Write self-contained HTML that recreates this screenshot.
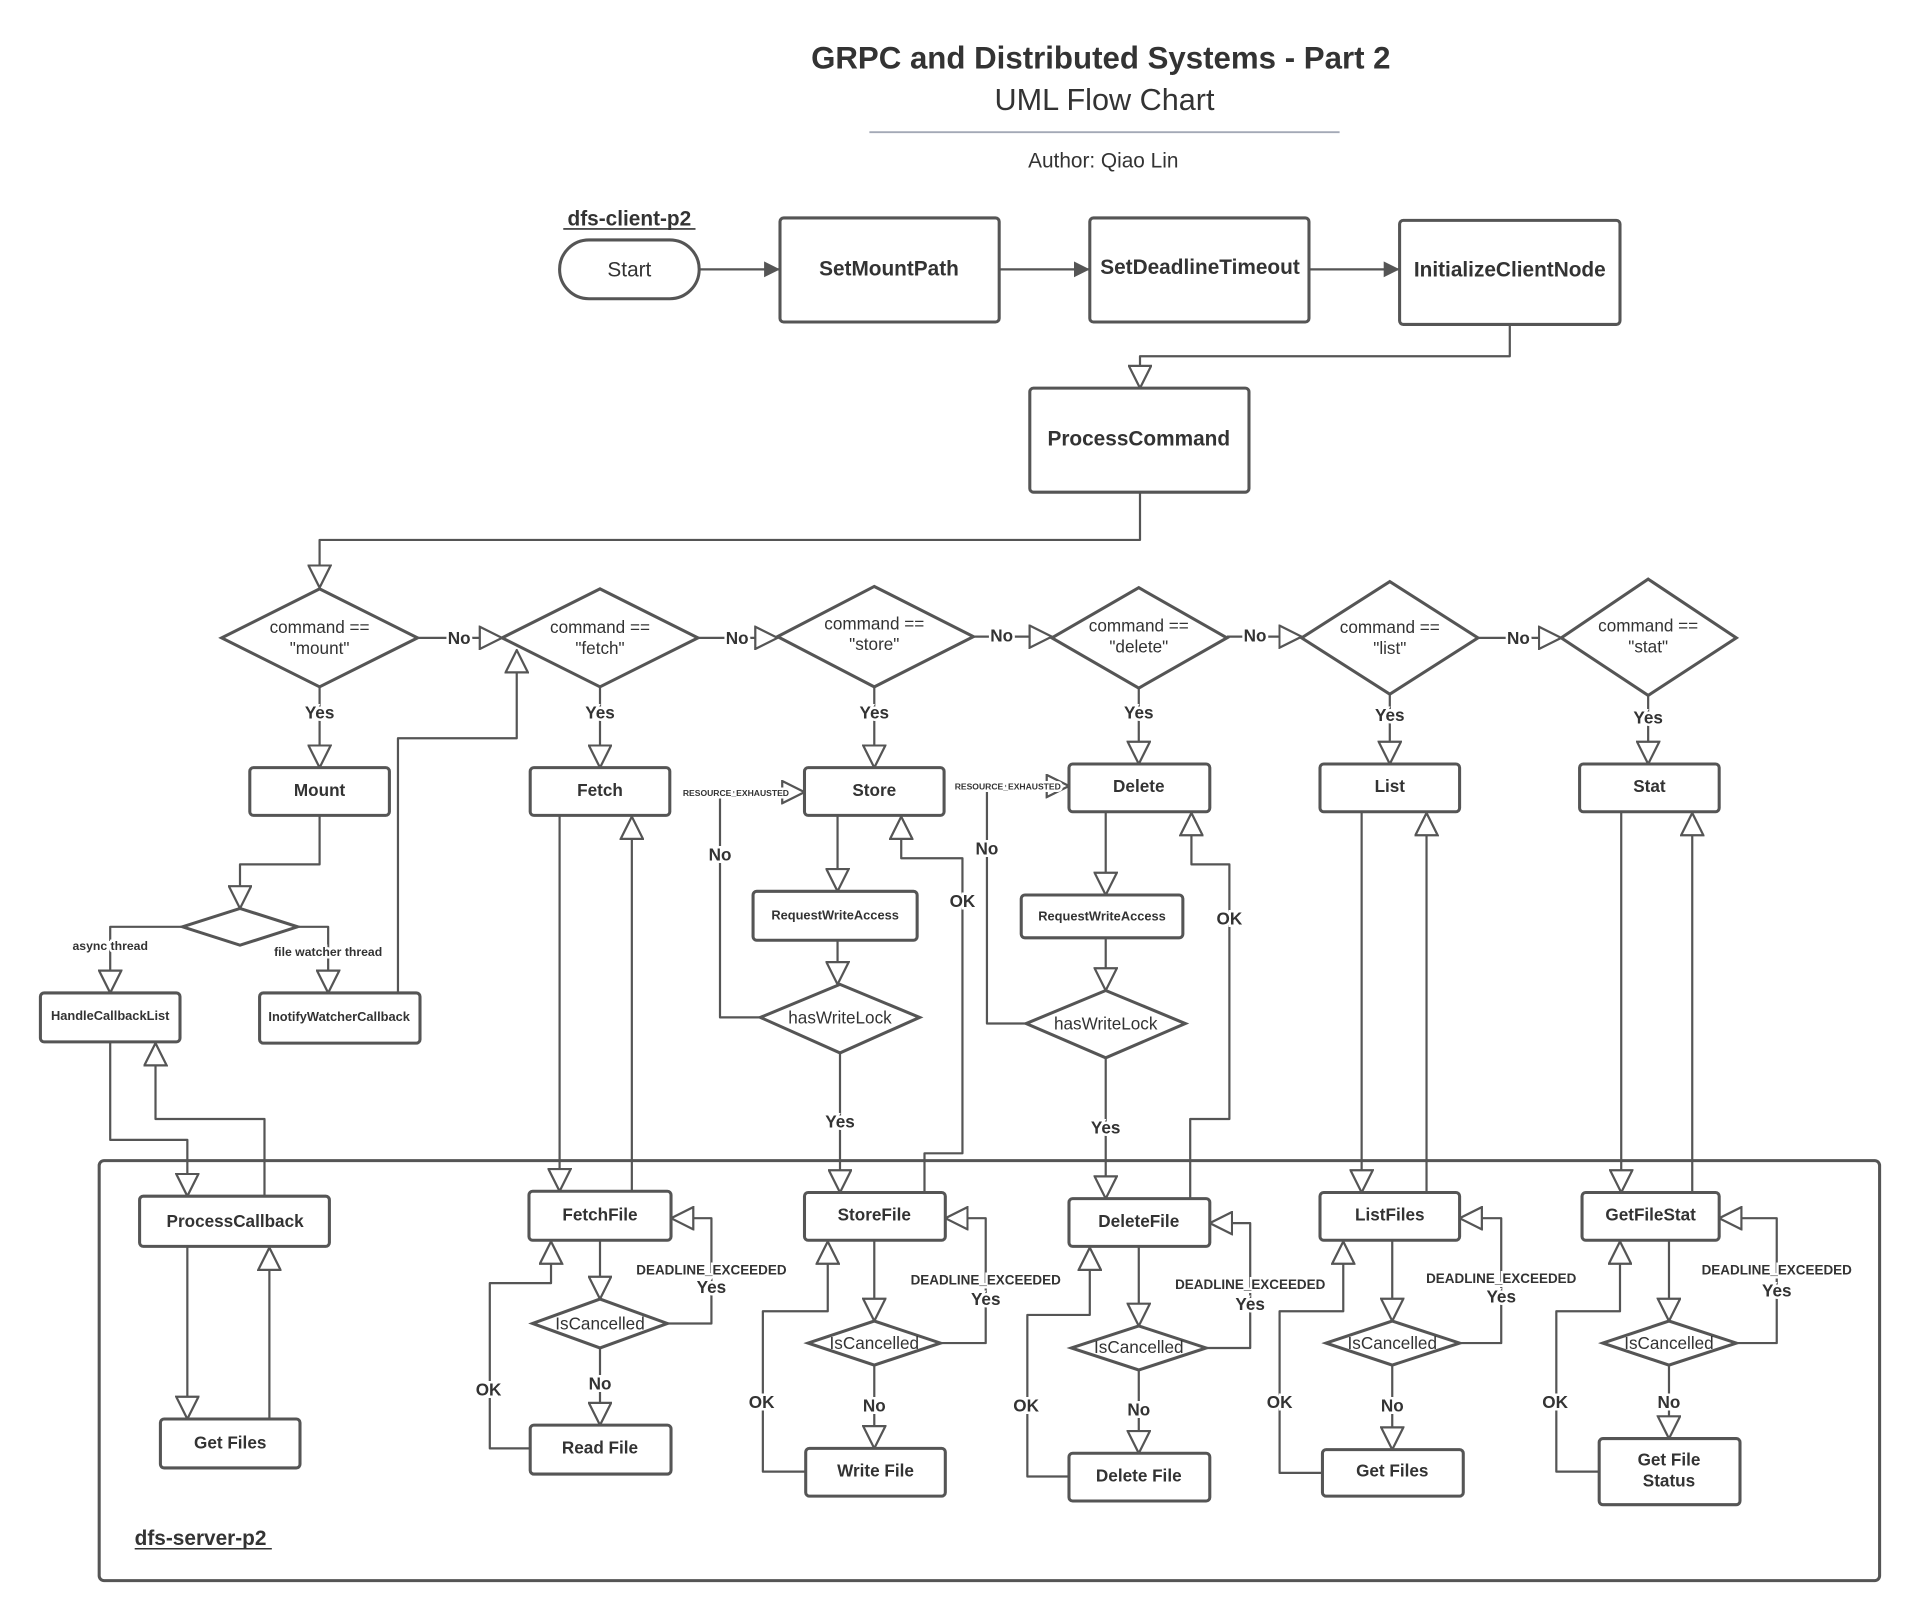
<!DOCTYPE html>
<html><head><meta charset="utf-8"><style>
html,body{margin:0;padding:0;background:#fff}
svg{display:block}
text{font-family:"Liberation Sans",sans-serif;fill:#333}
.b{font-weight:bold}
.box{fill:#fff;stroke:#555;stroke-width:2.5}
.ln{fill:none;stroke:#555;stroke-width:1.8;stroke-linejoin:round}
.lb{font-weight:bold;paint-order:stroke;stroke:#fff;stroke-width:4px}
</style></head><body>
<svg width="1920" height="1621" viewBox="0 0 1568 1324" preserveAspectRatio="none" xmlns="http://www.w3.org/2000/svg">
<defs>
<marker id="h" viewBox="0 0 22 22" markerWidth="20" markerHeight="20" refX="21" refY="11" orient="auto" markerUnits="userSpaceOnUse">
<path d="M1,1 L21,11 L1,21 Z" fill="#fff" stroke="#555" stroke-width="2"/></marker>
<marker id="f" viewBox="0 0 12 12" markerWidth="13" markerHeight="13" refX="12" refY="6" orient="auto" markerUnits="userSpaceOnUse">
<path d="M0,0 L12,6 L0,12 Z" fill="#555"/></marker>
</defs>
<rect width="1568" height="1324" fill="#fff"/>
<text x="899" y="56" text-anchor="middle" class="b" font-size="25.5">GRPC and Distributed Systems - Part 2</text>
<text x="902" y="90" text-anchor="middle" font-size="25">UML Flow Chart</text>
<line x1="710" y1="108" x2="1094" y2="108" stroke="#a3a9b6" stroke-width="1.5"/>
<text x="901" y="137" text-anchor="middle" font-size="17">Author: Qiao Lin</text>
<text x="514" y="184" text-anchor="middle" class="b" font-size="17">dfs-client-p2</text>
<line x1="460" y1="187" x2="568" y2="187" stroke="#333" stroke-width="1.3"/>

<rect x="457" y="196" width="114" height="48" rx="24" class="box"/>
<text x="514" y="226" text-anchor="middle" font-size="17">Start</text>
<rect x="637" y="178" width="179" height="85" rx="3" class="box"/>
<text x="726" y="225" text-anchor="middle" class="b" font-size="17">SetMountPath</text>
<rect x="890" y="178" width="179" height="85" rx="3" class="box"/>
<text x="980" y="224" text-anchor="middle" class="b" font-size="17">SetDeadlineTimeout</text>
<rect x="1143" y="180" width="180" height="85" rx="3" class="box"/>
<text x="1233" y="226" text-anchor="middle" class="b" font-size="17">InitializeClientNode</text>
<rect x="841" y="317" width="179" height="85" rx="3" class="box"/>
<text x="930" y="364" text-anchor="middle" class="b" font-size="17">ProcessCommand</text>

<path class="ln" marker-end="url(#f)" d="M571,220 H637"/>
<path class="ln" marker-end="url(#f)" d="M816,220 H890"/>
<path class="ln" marker-end="url(#f)" d="M1069,220 H1143"/>
<path class="ln" marker-end="url(#h)" d="M1233,265 V291 H931 V317"/>
<path class="ln" marker-end="url(#h)" d="M931,402 V441 H261 V480"/>

<g stroke="#555" stroke-width="2.5" fill="#fff">
<polygon points="181,521 261,481 341,521 261,561"/>
<polygon points="410,521 490,481 570,521 490,561"/>
<polygon points="635,520 714,479 795,520 714,561"/>
<polygon points="859,521 930,480 1002,521 930,562"/>
<polygon points="1063,521 1135,475 1207,521 1135,567"/>
<polygon points="1275,521 1346,473 1418,521 1346,568"/>
</g>
<g font-size="14" text-anchor="middle">
<text x="261" y="517">command ==</text><text x="261" y="534">"mount"</text>
<text x="490" y="517">command ==</text><text x="490" y="534">"fetch"</text>
<text x="714" y="514">command ==</text><text x="714" y="531">"store"</text>
<text x="930" y="516">command ==</text><text x="930" y="533">"delete"</text>
<text x="1135" y="517">command ==</text><text x="1135" y="534">"list"</text>
<text x="1346" y="516">command ==</text><text x="1346" y="533">"stat"</text>
</g>
<path class="ln" marker-end="url(#h)" d="M341,521 H410"/>
<path class="ln" marker-end="url(#h)" d="M570,521 H635"/>
<path class="ln" marker-end="url(#h)" d="M795,520 H859"/>
<path class="ln" marker-end="url(#h)" d="M1002,520 H1063"/>
<path class="ln" marker-end="url(#h)" d="M1207,521 H1275"/>
<g font-size="14" text-anchor="middle">
<text class="lb" x="375" y="526">No</text>
<text class="lb" x="602" y="526">No</text>
<text class="lb" x="818" y="524">No</text>
<text class="lb" x="1025" y="524">No</text>
<text class="lb" x="1240" y="526">No</text>
</g>
<path class="ln" marker-end="url(#h)" d="M261,561 V627"/>
<path class="ln" marker-end="url(#h)" d="M490,561 V627"/>
<path class="ln" marker-end="url(#h)" d="M714,561 V627"/>
<path class="ln" marker-end="url(#h)" d="M930,562 V624"/>
<path class="ln" marker-end="url(#h)" d="M1135,567 V624"/>
<path class="ln" marker-end="url(#h)" d="M1346,568 V624"/>
<g font-size="14" text-anchor="middle">
<text class="lb" x="261" y="587">Yes</text>
<text class="lb" x="490" y="587">Yes</text>
<text class="lb" x="714" y="587">Yes</text>
<text class="lb" x="930" y="587">Yes</text>
<text class="lb" x="1135" y="589">Yes</text>
<text class="lb" x="1346" y="591">Yes</text>
</g>

<g>
<rect x="204" y="627" width="114" height="39" rx="3" class="box"/>
<rect x="433" y="627" width="114" height="39" rx="3" class="box"/>
<rect x="657" y="627" width="114" height="39" rx="3" class="box"/>
<rect x="873" y="624" width="115" height="39" rx="3" class="box"/>
<rect x="1078" y="624" width="114" height="39" rx="3" class="box"/>
<rect x="1290" y="624" width="114" height="39" rx="3" class="box"/>
</g>
<g font-size="14" text-anchor="middle">
<text x="261" y="650" class="b">Mount</text>
<text x="490" y="650" class="b">Fetch</text>
<text x="714" y="650" class="b">Store</text>
<text x="930" y="647" class="b">Delete</text>
<text x="1135" y="647" class="b">List</text>
<text x="1347" y="647" class="b">Stat</text>
</g>

<path class="ln" marker-end="url(#h)" d="M261,666 V706 H196 V742"/>
<polygon points="149,757 196,742 243,757 196,772" fill="#fff" stroke="#555" stroke-width="2.5"/>
<path class="ln" marker-end="url(#h)" d="M149,757 H90 V811"/>
<path class="ln" marker-end="url(#h)" d="M243,757 H268 V811"/>
<text class="lb" x="90" y="776" font-size="10" text-anchor="middle">async thread</text>
<text class="lb" x="268" y="781" font-size="10" text-anchor="middle">file watcher thread</text>
<rect x="33" y="811" width="114" height="40" rx="3" class="box"/>
<text x="90" y="833" font-size="10.5" class="b" text-anchor="middle">HandleCallbackList</text>
<rect x="212" y="811" width="131" height="41" rx="3" class="box"/>
<text x="277" y="834" font-size="10.5" class="b" text-anchor="middle">InotifyWatcherCallback</text>
<path class="ln" marker-end="url(#h)" d="M325,811 V603 H422 V531"/>
<path class="ln" marker-end="url(#h)" d="M90,851 V931 H153 V977"/>
<path class="ln" marker-end="url(#h)" d="M216,977 V914 H127 V852"/>

<rect x="81" y="948" width="1454" height="343" rx="4" fill="none" stroke="#555" stroke-width="2.5"/>
<text x="110" y="1262" class="b" font-size="17">dfs-server-p2</text>
<line x1="110" y1="1265" x2="222" y2="1265" stroke="#333" stroke-width="1.3"/>

<rect x="114" y="977" width="155" height="41" rx="3" class="box"/>
<text x="192" y="1002" font-size="14" class="b" text-anchor="middle">ProcessCallback</text>
<rect x="131" y="1159" width="114" height="40" rx="3" class="box"/>
<text x="188" y="1183" font-size="14" class="b" text-anchor="middle">Get Files</text>
<path class="ln" marker-end="url(#h)" d="M153,1018 V1159"/>
<path class="ln" marker-end="url(#h)" d="M220,1159 V1019"/>

<path class="ln" marker-end="url(#h)" d="M457,666 V973"/>
<path class="ln" marker-end="url(#h)" d="M516,973 V667"/>
<rect x="432" y="973" width="116" height="40" rx="3" class="box"/>
<text x="490" y="997" font-size="14" class="b" text-anchor="middle">FetchFile</text>
<path class="ln" marker-end="url(#h)" d="M490,1013 V1061"/>
<polygon points="435,1081 490,1061 545,1081 490,1101" fill="#fff" stroke="#555" stroke-width="2.5"/>
<text x="490" y="1086" font-size="14" text-anchor="middle">IsCancelled</text>
<path class="ln" marker-end="url(#h)" d="M545,1081 H581 V995 H548"/>
<text class="lb" x="581" y="1041" font-size="11" text-anchor="middle">DEADLINE_EXCEEDED</text>
<text class="lb" x="581" y="1056" font-size="14" text-anchor="middle">Yes</text>
<path class="ln" marker-end="url(#h)" d="M490,1101 V1164"/>
<text class="lb" x="490" y="1135" font-size="14" text-anchor="middle">No</text>
<rect x="433" y="1164" width="115" height="40" rx="3" class="box"/>
<text x="490" y="1187" font-size="14" class="b" text-anchor="middle">Read File</text>
<path class="ln" marker-end="url(#h)" d="M433,1183 H400 V1048 H450 V1014"/>
<text class="lb" x="399" y="1140" font-size="14" text-anchor="middle">OK</text>

<path class="ln" marker-end="url(#h)" d="M684,666 V728"/>
<rect x="615" y="728" width="134" height="40" rx="3" class="box"/>
<text x="682" y="751" font-size="10.5" class="b" text-anchor="middle">RequestWriteAccess</text>
<path class="ln" marker-end="url(#h)" d="M684,768 V804"/>
<polygon points="621,831 686,804 751,831 686,860" fill="#fff" stroke="#555" stroke-width="2.5"/>
<text x="686" y="836" font-size="14" text-anchor="middle">hasWriteLock</text>
<path class="ln" marker-end="url(#h)" d="M621,831 H588 V647 H657"/>
<text class="lb" x="601" y="650" font-size="7" text-anchor="middle">RESOURCE_EXHAUSTED</text>
<text class="lb" x="588" y="703" font-size="14" text-anchor="middle">No</text>
<path class="ln" marker-end="url(#h)" d="M686,860 V974"/>
<text class="lb" x="686" y="921" font-size="14" text-anchor="middle">Yes</text>
<path class="ln" marker-end="url(#h)" d="M755,974 V942 H786 V701 H736 V667"/>
<text class="lb" x="786" y="741" font-size="14" text-anchor="middle">OK</text>
<rect x="657" y="974" width="115" height="39" rx="3" class="box"/>
<text x="714" y="997" font-size="14" class="b" text-anchor="middle">StoreFile</text>
<path class="ln" marker-end="url(#h)" d="M714,1013 V1079"/>
<polygon points="660,1097 714,1079 768,1097 714,1115" fill="#fff" stroke="#555" stroke-width="2.5"/>
<text x="714" y="1102" font-size="14" text-anchor="middle">IsCancelled</text>
<path class="ln" marker-end="url(#h)" d="M768,1097 H805 V995 H772"/>
<text class="lb" x="805" y="1049" font-size="11" text-anchor="middle">DEADLINE_EXCEEDED</text>
<text class="lb" x="805" y="1066" font-size="14" text-anchor="middle">Yes</text>
<path class="ln" marker-end="url(#h)" d="M714,1115 V1183"/>
<text class="lb" x="714" y="1153" font-size="14" text-anchor="middle">No</text>
<rect x="658" y="1183" width="114" height="39" rx="3" class="box"/>
<text x="715" y="1206" font-size="14" class="b" text-anchor="middle">Write File</text>
<path class="ln" marker-end="url(#h)" d="M658,1202 H623 V1071 H676 V1014"/>
<text class="lb" x="622" y="1150" font-size="14" text-anchor="middle">OK</text>

<path class="ln" marker-end="url(#h)" d="M903,663 V731"/>
<rect x="834" y="731" width="132" height="35" rx="3" class="box"/>
<text x="900" y="752" font-size="10.5" class="b" text-anchor="middle">RequestWriteAccess</text>
<path class="ln" marker-end="url(#h)" d="M903,766 V809"/>
<polygon points="838,836 903,809 968,836 903,864" fill="#fff" stroke="#555" stroke-width="2.5"/>
<text x="903" y="841" font-size="14" text-anchor="middle">hasWriteLock</text>
<path class="ln" marker-end="url(#h)" d="M838,836 H806 V642 H873"/>
<text class="lb" x="823" y="645" font-size="7" text-anchor="middle">RESOURCE_EXHAUSTED</text>
<text class="lb" x="806" y="698" font-size="14" text-anchor="middle">No</text>
<path class="ln" marker-end="url(#h)" d="M903,864 V979"/>
<text class="lb" x="903" y="926" font-size="14" text-anchor="middle">Yes</text>
<path class="ln" marker-end="url(#h)" d="M972,979 V914 H1004 V706 H973 V664"/>
<text class="lb" x="1004" y="755" font-size="14" text-anchor="middle">OK</text>
<rect x="873" y="979" width="115" height="39" rx="3" class="box"/>
<text x="930" y="1002" font-size="14" class="b" text-anchor="middle">DeleteFile</text>
<path class="ln" marker-end="url(#h)" d="M930,1018 V1083"/>
<polygon points="875,1101 930,1083 985,1101 930,1119" fill="#fff" stroke="#555" stroke-width="2.5"/>
<text x="930" y="1105" font-size="14" text-anchor="middle">IsCancelled</text>
<path class="ln" marker-end="url(#h)" d="M985,1101 H1021 V999 H988"/>
<text class="lb" x="1021" y="1053" font-size="11" text-anchor="middle">DEADLINE_EXCEEDED</text>
<text class="lb" x="1021" y="1070" font-size="14" text-anchor="middle">Yes</text>
<path class="ln" marker-end="url(#h)" d="M930,1119 V1187"/>
<text class="lb" x="930" y="1156" font-size="14" text-anchor="middle">No</text>
<rect x="873" y="1187" width="115" height="39" rx="3" class="box"/>
<text x="930" y="1210" font-size="14" class="b" text-anchor="middle">Delete File</text>
<path class="ln" marker-end="url(#h)" d="M873,1206 H839 V1074 H890 V1019"/>
<text class="lb" x="838" y="1153" font-size="14" text-anchor="middle">OK</text>

<path class="ln" marker-end="url(#h)" d="M1112,663 V974"/>
<path class="ln" marker-end="url(#h)" d="M1165,974 V664"/>
<rect x="1078" y="974" width="114" height="39" rx="3" class="box"/>
<text x="1135" y="997" font-size="14" class="b" text-anchor="middle">ListFiles</text>
<path class="ln" marker-end="url(#h)" d="M1137,1013 V1079"/>
<polygon points="1083,1097 1137,1079 1192,1097 1137,1115" fill="#fff" stroke="#555" stroke-width="2.5"/>
<text x="1137" y="1102" font-size="14" text-anchor="middle">IsCancelled</text>
<path class="ln" marker-end="url(#h)" d="M1192,1097 H1226 V995 H1192"/>
<text class="lb" x="1226" y="1048" font-size="11" text-anchor="middle">DEADLINE_EXCEEDED</text>
<text class="lb" x="1226" y="1064" font-size="14" text-anchor="middle">Yes</text>
<path class="ln" marker-end="url(#h)" d="M1137,1115 V1184"/>
<text class="lb" x="1137" y="1153" font-size="14" text-anchor="middle">No</text>
<rect x="1080" y="1184" width="115" height="38" rx="3" class="box"/>
<text x="1137" y="1206" font-size="14" class="b" text-anchor="middle">Get Files</text>
<path class="ln" marker-end="url(#h)" d="M1080,1203 H1045 V1071 H1097 V1014"/>
<text class="lb" x="1045" y="1150" font-size="14" text-anchor="middle">OK</text>

<path class="ln" marker-end="url(#h)" d="M1324,663 V974"/>
<path class="ln" marker-end="url(#h)" d="M1382,974 V664"/>
<rect x="1292" y="974" width="112" height="39" rx="3" class="box"/>
<text x="1348" y="997" font-size="14" class="b" text-anchor="middle">GetFileStat</text>
<path class="ln" marker-end="url(#h)" d="M1363,1013 V1079"/>
<polygon points="1309,1097 1363,1079 1418,1097 1363,1115" fill="#fff" stroke="#555" stroke-width="2.5"/>
<text x="1363" y="1102" font-size="14" text-anchor="middle">IsCancelled</text>
<path class="ln" marker-end="url(#h)" d="M1418,1097 H1451 V995 H1404"/>
<text class="lb" x="1451" y="1041" font-size="11" text-anchor="middle">DEADLINE_EXCEEDED</text>
<text class="lb" x="1451" y="1059" font-size="14" text-anchor="middle">Yes</text>
<path class="ln" marker-end="url(#h)" d="M1363,1115 V1175"/>
<text class="lb" x="1363" y="1150" font-size="14" text-anchor="middle">No</text>
<rect x="1306" y="1175" width="115" height="54" rx="3" class="box"/>
<text x="1363" y="1197" font-size="14" class="b" text-anchor="middle">Get File</text>
<text x="1363" y="1214" font-size="14" class="b" text-anchor="middle">Status</text>
<path class="ln" marker-end="url(#h)" d="M1306,1202 H1271 V1071 H1323 V1014"/>
<text class="lb" x="1270" y="1150" font-size="14" text-anchor="middle">OK</text>
</svg>
</body></html>
